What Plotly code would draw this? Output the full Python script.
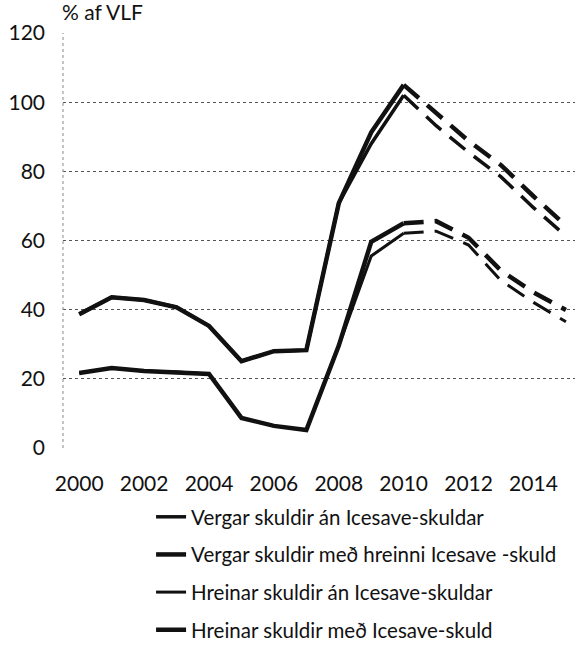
import plotly.graph_objects as go

years = list(range(2000, 2016))
vergar_an = [38.7, 43.6, 42.8, 40.7, 35.3, 25.1, 28.0, 28.3, 70.8, 88.0, 102.0, 93.2, 85.5, 78.4, 69.5, 61.3]
vergar_med = [38.7, 43.6, 42.8, 40.7, 35.3, 25.1, 28.0, 28.3, 70.8, 91.3, 105.0, 96.8, 88.8, 81.8, 72.8, 64.3]
hreinar_an = [21.7, 23.1, 22.3, 22.0, 21.4, 8.7, 6.4, 5.2, 29.6, 55.5, 62.1, 62.7, 58.7, 48.4, 42.1, 36.5]
hreinar_med = [21.7, 23.1, 22.3, 22.0, 21.4, 8.7, 6.4, 5.2, 29.6, 59.6, 65.0, 65.6, 60.8, 51.3, 45.0, 39.9]
last_actual = 2010

series = [
    ("Vergar skuldir án Icesave-skuldar", vergar_an, 3.5),
    ("Vergar skuldir með hreinni Icesave -skuld", vergar_med, 4.5),
    ("Hreinar skuldir án Icesave-skuldar", hreinar_an, 3),
    ("Hreinar skuldir með Icesave-skuld", hreinar_med, 4.5),
]
y_ticks = [0, 20, 40, 60, 80, 100, 120]
x_ticks = list(range(2000, 2016, 2))

fig = go.Figure()
split = years.index(last_actual)
for i, (name, vals, w) in enumerate(series):
    fig.add_trace(go.Scatter(
        x=years[:split + 1], y=vals[:split + 1], mode="lines", name=name,
        line=dict(color="#111111", width=w), legendgroup=f"g{i}", showlegend=True))
    fig.add_trace(go.Scatter(
        x=years[split:], y=vals[split:], mode="lines", name=name,
        line=dict(color="#111111", width=w, dash="20px,11px"), legendgroup=f"g{i}", showlegend=False))

FONT = "Lato, 'Open Sans', sans-serif"
fig.update_layout(
    width=575, height=646,
    margin=dict(l=63, r=0, t=33, b=198, autoexpand=False),
    paper_bgcolor="white", plot_bgcolor="white",
    font=dict(family=FONT, color="#111111", size=21),
    showlegend=True,
    legend=dict(x=0.172, y=-0.118, xanchor="left", yanchor="top",
                font=dict(size=20.5, family=FONT, color="#111111"), tracegroupgap=8,
                bgcolor="rgba(0,0,0,0)", itemwidth=30),
    annotations=[dict(text="% af VLF", xref="paper", yref="paper", x=0, y=1.0,
                      xanchor="left", yanchor="bottom", yshift=7, xshift=-3, showarrow=False,
                      font=dict(size=21, family=FONT, color="#111111"))],
    shapes=[
        dict(type="line", xref="paper", yref="paper", x0=0, x1=0, y0=0, y1=1,
             line=dict(color="#888888", width=1, dash="dot")),
    ],
)
fig.update_xaxes(range=[1999.5, 2015.28], tickvals=x_ticks, ticktext=[str(v) for v in x_ticks],
                 showgrid=False, zeroline=False, showline=False, ticks="", ticklen=0,
                 tickfont=dict(size=21), ticklabelstandoff=21, automargin=False, fixedrange=True)
fig.update_yaxes(range=[0, 120], tickvals=y_ticks, showgrid=True, gridcolor="#555555",
                 griddash="3px,3px", gridwidth=1, zeroline=False, showline=False,
                 ticks="", tickfont=dict(size=21), ticklabelstandoff=17, automargin=False,
                 fixedrange=True)

fig.write_html("out.html", config={"displayModeBar": False},
               post_script="document.body.style.margin='0';")
